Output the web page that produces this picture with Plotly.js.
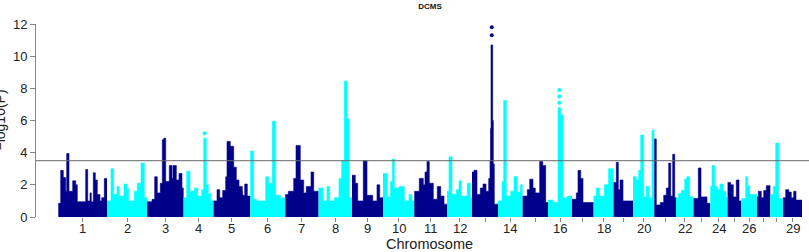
<!DOCTYPE html>
<html>
<head>
<meta charset="utf-8">
<script src="https://cdn.plot.ly/plotly-3.0.1.min.js"></script>
<style>html,body{margin:0;padding:0;background:#fff;}#chart{width:809px;height:252px;}</style>
</head>
<body>
<div id="chart"></div>
<script>
// Chromosome names and their tick labels (R drops crowded labels)
const chromosomes = [1,2,3,4,5,6,7,8,9,10,11,12,13,14,15,16,17,18,19,20,21,22,23,24,25,26,27,28,29];
const tickLabels = ['1','2','3','4','5','6','7','8','9','10','11','12','','14','','16','','18','','20','','22','','24','','26','','','29'];
// Relative chromosome lengths (genome units)
const chrLengths = [48.7,40,36.6,30,36.7,35,33.3,33.4,31,31.3,32.7,25,26,24.6,25.4,24,21.6,20,19.4,21.3,21.7,17.6,16.7,17.3,13.7,15.7,13.3,12.7,19];
// Peak profile: start position within chromosome of each segment
const segPos = [
  [0,2.4,5,7.4,8.4,10.7,14.4,17.4,19,27.4,29.4,31.7,33,35,37,39,41.7,43.4,46],
  [0,4,6.7,10,12.3,17,20,21.7,27.3,30.3,34,37.3],
  [0,5,7.7,10.3,13.3,15.3,16.7,18.7,22.3,25,26,29.3,32,35],
  [0,3.1,6.4,10.7,14.1,18.1,20.1,22.7,24.7,27.1],
  [0,3.4,6.1,9.1,12.1,13.4,16.7,20.1,22.7,25.4,28.7,29,31.1,33.7],
  [0,3.4,6.4,15.4,18.4,22,25.4,30],
  [0,3,8.4,10.7,15,18.4,21,25.7,28.4],
  [0,4.4,8.4,11.1,15.7,20.4,23.1,25.7,28.4,30.4],
  [0,3.3,5.7,11.3,15,20.7,25,27.7],
  [0,4,7.3,9.3,11.3,16.3,21.3,26,29],
  [0,5,9,10.7,12.7,15,19,23,26.4,29.7],
  [0,2,5,9.3,12,14.3,20.3,23.3],
  [0,2,5,8.3,11,14,16.7,18,18.5,19,20.7,21.3,22.3],
  [0,4,5.7,8.3,12.7,16,19.3,22.3],
  [0,4.7,7.1,10.4,12.7,17.1,20.1,23.1],
  [0,5,10,12.7,15,19.3],
  [0,4.3,6,8.7,11],
  [0,2.7,6.1,10.7,15],
  [0,2.7,4.7,6.4,9.4],
  [0,3.3,5.7,7.7,10.7,13.3,16,19],
  [0,2,6,9.4,12,14.4,16.4,18.4,20.4],
  [0,2.3,5.3,8.7,10.7,13.7],
  [0,4.7,7.4,13.4],
  [0,1.7,4.4,7,9.7,13,15.7],
  [0,3,5.7,8.7,11.4],
  [0,4.4,6.4,8.4],
  [0,1.3,4.3,6.7,9.3],
  [0,3,5.4,8.4],
  [0,2.7,5.7,8.3,10.7,13]
];
// Peak profile: -log10(P) height of each segment
const segVal = [
  [0.85,2.9,2.45,1.6,3.95,1.6,2.25,2.0,0.95,2.95,1.0,1.5,0.95,2.75,2.3,1.4,1.0,1.2,2.4],
  [1.0,3.0,1.4,1.9,1.3,2.05,1.75,1.0,1.6,2.1,3.35,1.2],
  [0.95,1.1,2.5,1.5,2.1,4.8,4.9,2.2,3.2,2.4,3.2,2.3,2.7,1.8],
  [1.2,2.85,1.6,1.8,1.3,1.7,4.9,2.0,1.45,1.0],
  [1.0,1.7,1.2,1.65,2.5,4.7,4.4,3.1,2.3,1.9,1.6,1.35,2.05,1.3],
  [4.1,1.1,1.0,2.5,2.1,5.95,1.35,1.2],
  [1.4,1.6,2.4,4.45,2.3,1.5,1.9,2.8,1.6],
  [1.8,1.0,1.9,1.0,1.2,2.4,3.5,8.45,6.1,1.2],
  [2.6,2.1,1.0,3.5,1.35,1.0,2.0,1.2],
  [2.7,1.25,2.2,3.6,1.8,1.9,1.0,1.4,1.0],
  [1.6,2.4,2.0,2.8,3.45,2.1,1.1,1.9,1.3,0.8],
  [1.6,3.75,1.4,1.7,2.25,1.3,2.1,1.2],
  [2.8,2.9,1.4,1.8,2.05,1.6,2.4,3.5,5.5,10.7,6.0,3.3,0.8],
  [1.0,2.2,7.25,1.3,1.6,2.5,1.55,2.0],
  [1.3,1.7,2.35,1.8,1.5,3.45,3.2,0.9],
  [1.05,0.9,6.8,6.35,1.2,1.3],
  [1.1,1.5,2.9,2.4,0.9],
  [1.3,1.8,1.3,2.0,3.0],
  [2.15,3.4,1.7,2.3,1.0],
  [2.5,2.3,2.9,5.1,1.25,1.9,1.2,5.4],
  [4.85,0.75,0.9,1.35,1.8,3.35,1.3,3.9,1.2],
  [1.2,1.45,1.65,2.35,2.5,1.25],
  [1.15,3.05,1.25,0.85],
  [1.9,3.2,1.9,1.7,2.05,1.6,1.2],
  [2.15,2.0,1.25,2.3,1.0],
  [1.15,2.5,1.95,1.4],
  [1.25,1.6,1.2,1.65,1.95],
  [1.4,1.9,4.6,1.15],
  [1.2,1.7,1.55,1.2,1.6,1.05]
];
// Isolated top SNPs above the peaks
const dotChr = [4,13,13,16,16,16];
const dotPos = [21,19.8,19.8,11.3,11.3,11.3];
const dotVal = [5.2,11.3,11.8,7.1,7.5,7.9];
const threshold = 3.5;
const yTicks = [0,2,4,6,8,10,12];

const colors = ['#00008B', '#00FFFF'];
const starts = [];
let acc = 0;
chrLengths.forEach(L => { starts.push(acc); acc += L; });
const centers = chrLengths.map((L, i) => starts[i] + L / 2);

const traces = segPos.map((pos, c) => {
  const xs = pos.map(p => starts[c] + p).concat([starts[c] + chrLengths[c]]);
  const ys = segVal[c].concat([segVal[c][segVal[c].length - 1]]);
  const col = colors[c % 2];
  return {
    type: 'scatter', mode: 'lines', x: xs, y: ys,
    line: {shape: 'hv', width: 0.6, color: col},
    fill: 'tozeroy', fillcolor: col,
    hoverinfo: 'skip', showlegend: false, name: 'chr' + chromosomes[c]
  };
});
traces.push({
  type: 'scatter', mode: 'markers',
  x: dotChr.map((c, i) => starts[c - 1] + dotPos[i]),
  y: dotVal,
  marker: {size: 4, color: dotChr.map(c => colors[(c - 1) % 2])},
  cliponaxis: false, showlegend: false, hoverinfo: 'skip'
});

const padLeft = 22.3;
const FONT = 'Liberation Sans, Arial, sans-serif';
const tickAnnotations = centers.map((cx, i) => ({
  text: tickLabels[i], xref: 'x', yref: 'paper', x: cx, y: 0, yshift: -11,
  xanchor: 'center', yanchor: 'middle', showarrow: false, font: {size: 13, color: '#222'}
})).filter(a => a.text !== '');

const layout = {
  width: 809, height: 252,
  margin: {l: 36, r: 0, t: 24, b: 35},
  paper_bgcolor: '#fff', plot_bgcolor: '#fff',
  font: {family: FONT, color: '#222', size: 13},
  title: {text: '<b>DCMS</b>', font: {size: 8, family: FONT, color: '#111'},
          xref: 'container', yref: 'container', x: 430 / 809, y: 1 - 6 / 252, xanchor: 'center', yanchor: 'middle'},
  xaxis: {
    range: [-padLeft, -padLeft + 773], showgrid: false, zeroline: false, showline: false,
    tickmode: 'array', tickvals: centers, ticktext: tickLabels, showticklabels: false,
    ticks: 'outside', ticklen: 4, tickcolor: '#888'
  },
  yaxis: {
    range: [0, 12], showgrid: false, zeroline: false, showline: true, linecolor: '#888', linewidth: 1,
    tickmode: 'array', tickvals: yTicks, ticks: 'outside', ticklen: 5, tickcolor: '#888',
    tickfont: {size: 13, color: '#222'}
  },
  shapes: [{type: 'line', xref: 'paper', x0: 0, x1: 1, yref: 'y', y0: threshold, y1: threshold,
            line: {color: '#666', width: 1}}],
  annotations: tickAnnotations.concat([
    {text: 'Chromosome', xref: 'paper', yref: 'paper', x: (429 - 36) / 773, y: 0, yshift: -27,
     xanchor: 'center', yanchor: 'middle', showarrow: false, font: {size: 14.5, color: '#222'}},
    {text: '\u2212log10(P)', xref: 'paper', yref: 'paper', x: 0, y: 0.5, xshift: -37,
     xanchor: 'center', yanchor: 'middle', textangle: -90, showarrow: false, font: {size: 14, color: '#222'}}
  ])
};
Plotly.newPlot('chart', traces, layout, {staticPlot: true, displayModeBar: false});
</script>
</body>
</html>
